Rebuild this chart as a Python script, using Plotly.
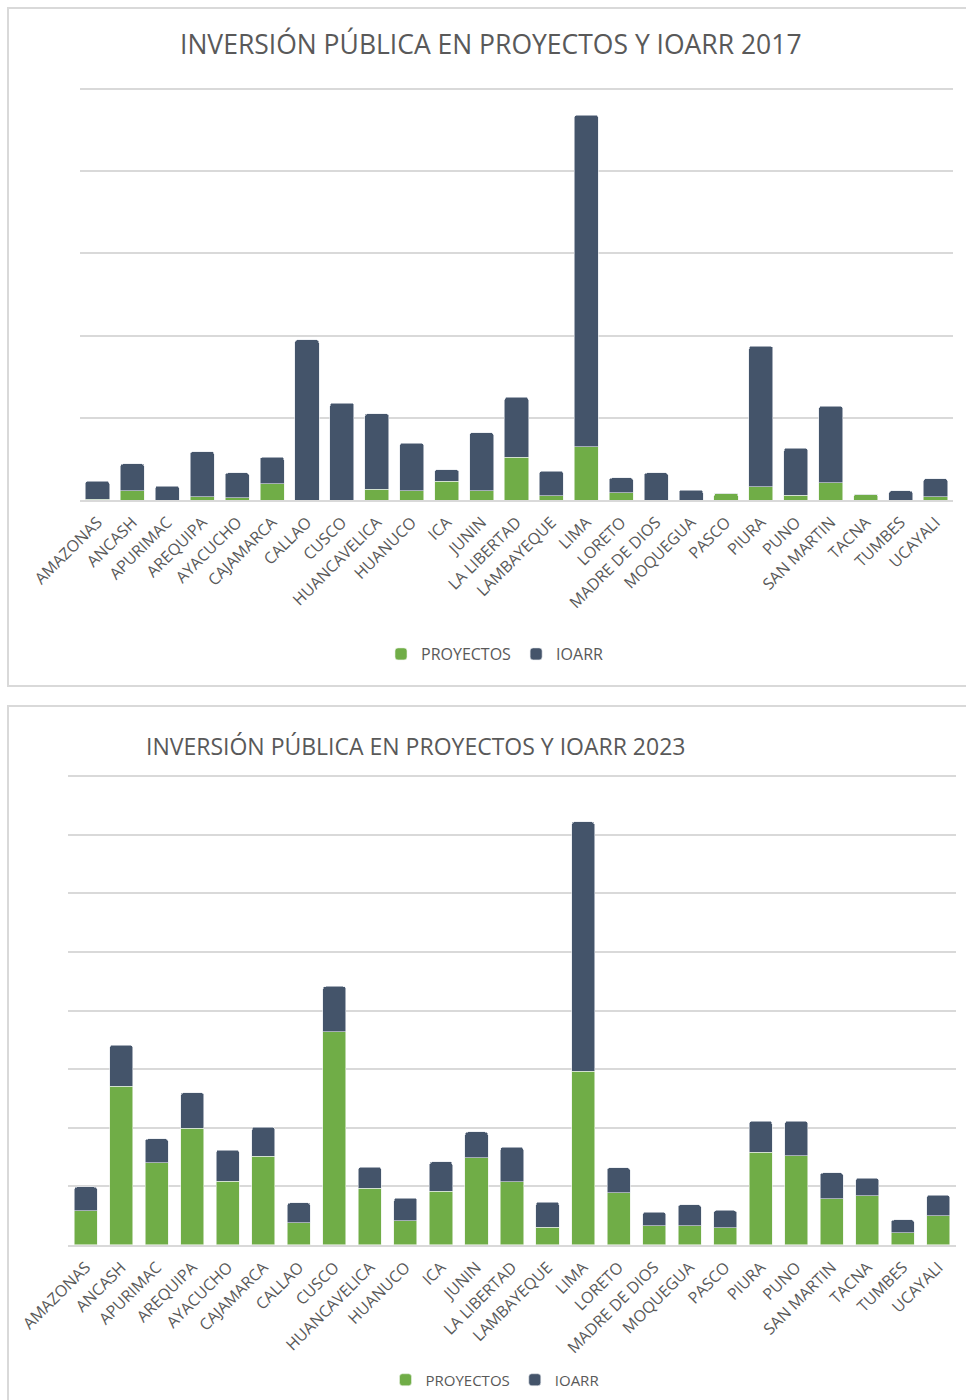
import plotly.graph_objects as go

regions = ["AMAZONAS", "ANCASH", "APURIMAC", "AREQUIPA", "AYACUCHO", "CAJAMARCA",
           "CALLAO", "CUSCO", "HUANCAVELICA", "HUANUCO", "ICA", "JUNIN",
           "LA LIBERTAD", "LAMBAYEQUE", "LIMA", "LORETO", "MADRE DE DIOS",
           "MOQUEGUA", "PASCO", "PIURA", "PUNO", "SAN MARTIN", "TACNA",
           "TUMBES", "UCAYALI"]

# 2017 (units = one gridline step)
proyectos_2017 = [0.01, 0.11, 0.00, 0.04, 0.03, 0.20, 0.00, 0.00, 0.13, 0.11,
                  0.23, 0.11, 0.52, 0.05, 0.65, 0.09, 0.00, 0.00, 0.08, 0.16,
                  0.06, 0.21, 0.07, 0.00, 0.04]
total_2017 = [0.23, 0.44, 0.17, 0.59, 0.33, 0.52, 1.95, 1.18, 1.05, 0.69,
              0.37, 0.82, 1.25, 0.35, 4.68, 0.27, 0.33, 0.12, 0.08, 1.87,
              0.63, 1.14, 0.07, 0.11, 0.26]
ioarr_2017 = [round(t - p, 2) for t, p in zip(total_2017, proyectos_2017)]

# 2023
proyectos_2023 = [0.58, 2.71, 1.40, 1.99, 1.09, 1.51, 0.38, 3.64, 0.97, 0.41,
                  0.92, 1.49, 1.08, 0.30, 2.96, 0.89, 0.33, 0.33, 0.29, 1.58,
                  1.52, 0.79, 0.84, 0.21, 0.50]
total_2023 = [0.99, 3.41, 1.81, 2.60, 1.62, 2.01, 0.72, 4.41, 1.33, 0.80,
              1.42, 1.93, 1.67, 0.73, 7.22, 1.32, 0.56, 0.69, 0.59, 2.11,
              2.11, 1.23, 1.14, 0.43, 0.85]
ioarr_2023 = [round(t - p, 2) for t, p in zip(total_2023, proyectos_2023)]

GREEN = "#70AD47"
NAVY = "#44546A"
GRID = "#D9D9D9"
TXT = "#595959"
FONT = "Open Sans"

W, H = 966, 1400


def px(x):
    return x / W


def py(y):
    return 1 - y / H


fig = go.Figure()

fig.add_trace(go.Bar(x=regions, y=proyectos_2017, name="PROYECTOS",
                     marker=dict(color=GREEN, line=dict(color="#EAF1E4", width=0.6), cornerradius=3),
                     width=0.69, xaxis="x", yaxis="y", legend="legend"))
fig.add_trace(go.Bar(x=regions, y=ioarr_2017, name="IOARR",
                     marker=dict(color=NAVY, line=dict(color="#E4E7EC", width=0.6), cornerradius=3),
                     width=0.69, xaxis="x", yaxis="y", legend="legend"))
fig.add_trace(go.Bar(x=regions, y=proyectos_2023, name="PROYECTOS",
                     marker=dict(color=GREEN, line=dict(color="#EAF1E4", width=0.6), cornerradius=3),
                     width=0.65, xaxis="x2", yaxis="y2", legend="legend2"))
fig.add_trace(go.Bar(x=regions, y=ioarr_2023, name="IOARR",
                     marker=dict(color=NAVY, line=dict(color="#E4E7EC", width=0.6), cornerradius=3),
                     width=0.65, xaxis="x2", yaxis="y2", legend="legend2"))

xcommon = dict(type="category", tickangle=-45, showgrid=False, zeroline=False,
               showline=True, linecolor=GRID, linewidth=1.5, automargin=False,
               tickfont=dict(family=FONT, size=16, color=TXT), ticks="",
               ticklabelstandoff=5)
ycommon = dict(showticklabels=False, showgrid=True, gridcolor=GRID, gridwidth=1.5,
               zeroline=False, dtick=1, ticks="", automargin=False)

fig.update_layout(
    width=W, height=H,
    margin=dict(l=0, r=0, t=0, b=0, autoexpand=False),
    paper_bgcolor="white", plot_bgcolor="white",
    barmode="stack",
    xaxis=dict(domain=[px(80), px(953)], anchor="y", **xcommon),
    yaxis=dict(domain=[py(500), py(86.5)], range=[0, 5.03], anchor="x", **ycommon),
    xaxis2=dict(domain=[px(68), px(956)], anchor="y2", **xcommon),
    yaxis2=dict(domain=[py(1245), py(773.1)], range=[0, 8.05], anchor="x2", **ycommon),
    legend=dict(orientation="h", x=px(495), y=py(654), xanchor="center", yanchor="middle",
                font=dict(family=FONT, size=16, color=TXT), itemwidth=30,
                tracegroupgap=0, traceorder="normal", bgcolor="rgba(0,0,0,0)"),
    legend2=dict(orientation="h", x=px(495), y=py(1380), xanchor="center", yanchor="middle",
                 font=dict(family=FONT, size=15, color=TXT), itemwidth=30,
                 tracegroupgap=0, traceorder="normal", bgcolor="rgba(0,0,0,0)"),
    showlegend=True,
    annotations=[
        dict(text="INVERSIÓN PÚBLICA EN PROYECTOS Y IOARR 2017", x=px(491), y=py(44),
             xref="paper", yref="paper", xanchor="center", yanchor="middle",
             showarrow=False, font=dict(family=FONT, size=26.5, color=TXT)),
        dict(text="INVERSIÓN PÚBLICA EN PROYECTOS Y IOARR 2023", x=px(415), y=py(746),
             xref="paper", yref="paper", xanchor="center", yanchor="middle",
             showarrow=False, font=dict(family=FONT, size=23, color=TXT)),
    ],
    shapes=[
        dict(type="rect", xref="paper", yref="paper", x0=px(8), x1=px(990),
             y0=py(686), y1=py(8), line=dict(color=GRID, width=2), layer="below"),
        dict(type="rect", xref="paper", yref="paper", x0=px(8), x1=px(990),
             y0=py(1420), y1=py(706), line=dict(color=GRID, width=2), layer="below"),
    ],
)

fig.write_html("out.html")
